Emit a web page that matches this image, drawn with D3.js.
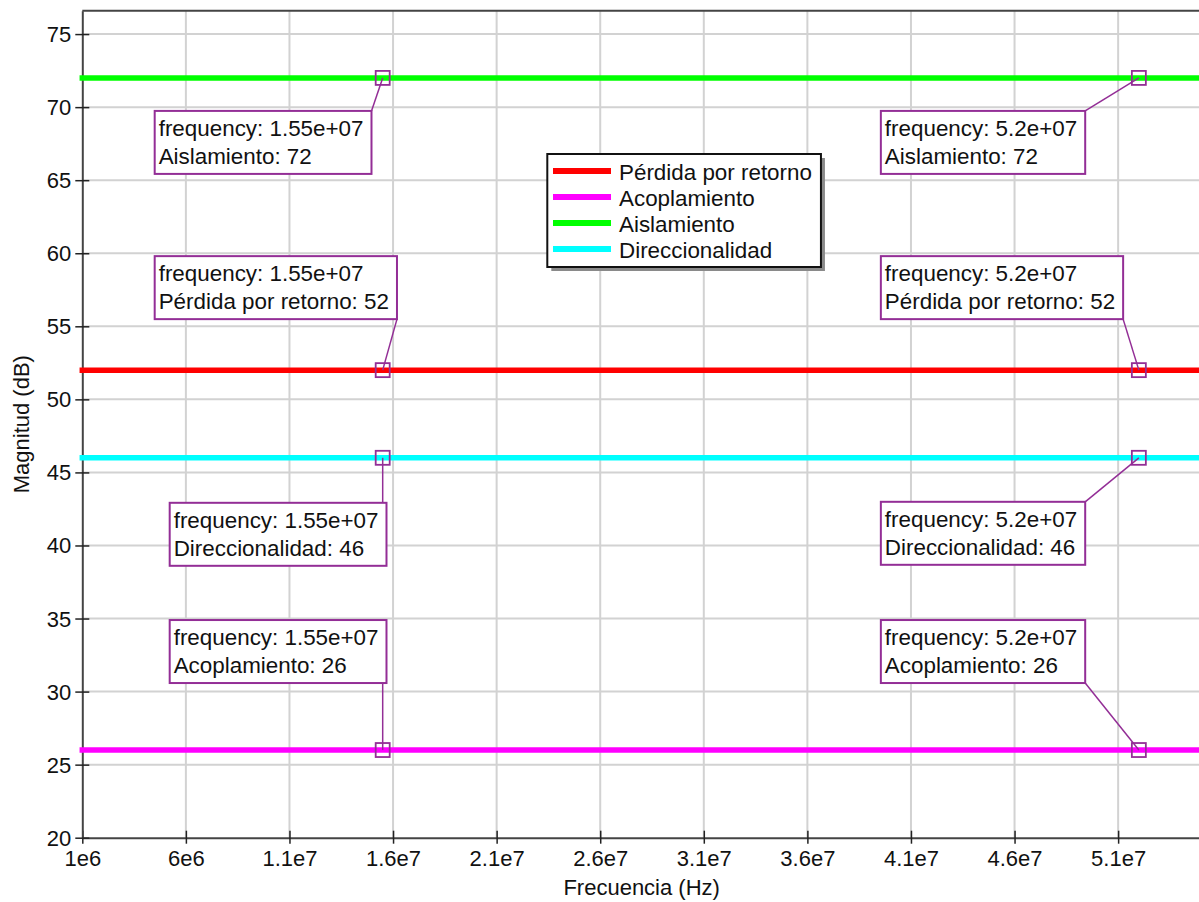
<!DOCTYPE html>
<html>
<head>
<meta charset="utf-8">
<script src="https://cdn.jsdelivr.net/npm/d3@7"></script>
<style>
  html, body { margin: 0; padding: 0; background: #fff; }
  svg { display: block; font-family: "Liberation Sans", Arial, sans-serif; }
</style>
</head>
<body>
<svg id="chart" width="1199" height="902"></svg>
<script>
// ---- data ----
const frequencyHz = [1e6, 1.55e7, 5.2e7, 5.5e7];
const seriesNames = ["Pérdida por retorno", "Acoplamiento", "Aislamiento", "Direccionalidad"];
const perdidaRetorno = [52, 52, 52, 52];
const acoplamiento = [26, 26, 26, 26];
const aislamiento = [72, 72, 72, 72];
const direccionalidad = [46, 46, 46, 46];
const markerFrequencies = [1.55e7, 5.2e7];
const xTickValues = [1e6, 6e6, 1.1e7, 1.6e7, 2.1e7, 2.6e7, 3.1e7, 3.6e7, 4.1e7, 4.6e7, 5.1e7];
const xTickLabels = ["1e6", "6e6", "1.1e7", "1.6e7", "2.1e7", "2.6e7", "3.1e7", "3.6e7", "4.1e7", "4.6e7", "5.1e7"];
const yTickValues = [20, 25, 30, 35, 40, 45, 50, 55, 60, 65, 70, 75];

// ---- styling ----
const seriesColors = ["#ff0000", "#ff00ff", "#00ff00", "#00ffff"];
const tipColor = "#932e96";
const seriesValues = [perdidaRetorno, acoplamiento, aislamiento, direccionalidad];

// datatip box placement, relative to the marker (box top-left corner)
const tipPlacement = {
  "Aislamiento":        [{dx: -228, dy: 33,   attach: "tr"}, {dx: -258, dy: 33,   attach: "tr"}],
  "Pérdida por retorno":[{dx: -228, dy: -114, attach: "br"}, {dx: -258, dy: -114, attach: "br"}],
  "Direccionalidad":    [{dx: -213, dy: 45,   attach: "t"},  {dx: -258, dy: 44,   attach: "tr"}],
  "Acoplamiento":       [{dx: -213, dy: -130, attach: "b"},  {dx: -258, dy: -130, attach: "br"}]
};

const svg = d3.select("#chart");
const plot = {left: 82.3, right: 1201, top: 10.7, bottom: 837.7};

const x = d3.scaleLinear().domain([1e6, 5.5e7]).range([plot.left, plot.right]);
const y = d3.scaleLinear().domain([20, 76.6]).range([plot.bottom, plot.top]);

// grid
const grid = svg.append("g").attr("stroke", "#d2d2d2").attr("stroke-width", 2);
grid.selectAll(".gx").data(xTickValues.slice(1)).join("line")
  .attr("x1", d => x(d)).attr("x2", d => x(d))
  .attr("y1", plot.top).attr("y2", plot.bottom);
grid.selectAll(".gy").data(yTickValues.slice(1)).join("line")
  .attr("x1", plot.left).attr("x2", plot.right)
  .attr("y1", d => y(d)).attr("y2", d => y(d));

// frame top edge
svg.append("line")
  .attr("x1", plot.left).attr("x2", plot.right)
  .attr("y1", plot.top).attr("y2", plot.top)
  .attr("stroke", "#444").attr("stroke-width", 2);

// axes
const xAxis = svg.append("g")
  .attr("transform", `translate(0,${plot.bottom})`)
  .call(d3.axisBottom(x).tickValues(xTickValues)
    .tickFormat((d, i) => xTickLabels[i]).tickSize(6).tickSizeOuter(0));
xAxis.select(".domain").attr("stroke", "#444").attr("stroke-width", 2);
xAxis.selectAll(".tick line").attr("y1", -7).attr("y2", 6).attr("stroke", "#222").attr("stroke-width", 1.5);
xAxis.selectAll(".tick text").attr("y", 28).attr("dy", null)
  .attr("font-size", 22).attr("fill", "#111").attr("font-family", "Liberation Sans, Arial, sans-serif");

const yAxis = svg.append("g")
  .attr("transform", `translate(${plot.left},0)`)
  .call(d3.axisLeft(y).tickValues(yTickValues).tickSize(7).tickSizeOuter(0));
yAxis.select(".domain").attr("stroke", "#444").attr("stroke-width", 2);
yAxis.selectAll(".tick line").attr("x1", 7).attr("x2", -7).attr("stroke", "#222").attr("stroke-width", 1.5);
yAxis.selectAll(".tick text").attr("x", -11).attr("dy", "0.34em")
  .attr("font-size", 22).attr("fill", "#111").attr("font-family", "Liberation Sans, Arial, sans-serif");

// axis titles
svg.append("text")
  .attr("x", (plot.left + plot.right) / 2).attr("y", 895)
  .attr("text-anchor", "middle").attr("font-size", 22).attr("fill", "#111")
  .text("Frecuencia (Hz)");
svg.append("text")
  .attr("transform", `translate(29,${(plot.top + plot.bottom) / 2}) rotate(-90)`)
  .attr("text-anchor", "middle").attr("font-size", 22).attr("fill", "#111")
  .text("Magnitud (dB)");

// series lines
const line = d3.line().x((d, i) => x(frequencyHz[i])).y(d => y(d));
svg.append("g").selectAll("path").data(seriesValues).join("path")
  .attr("d", d => line(d))
  .attr("fill", "none")
  .attr("stroke", (d, i) => seriesColors[i])
  .attr("stroke-width", 5.5)
  .attr("stroke-linecap", "square");

// datatips
const fmtFreq = v => {
  const [m, e] = v.toExponential().split("e");
  const sign = e[0] === "-" ? "-" : "+";
  const digits = e.replace(/[+-]/, "").padStart(2, "0");
  return `${m}e${sign}${digits}`;
};

const tipLayer = svg.append("g");
seriesNames.forEach((name, si) => {
  markerFrequencies.forEach((f, mi) => {
    const idx = frequencyHz.indexOf(f);
    const val = seriesValues[si][idx];
    const mx = x(f), my = y(val);
    const p = tipPlacement[name][mi];
    const g = tipLayer.append("g");
    const bx = mx + p.dx, by = my + p.dy;
    const rect = g.append("rect").attr("x", bx).attr("y", by)
      .attr("height", 63).attr("fill", "#fff")
      .attr("stroke", tipColor).attr("stroke-width", 2);
    const t1 = g.append("text").attr("x", bx + 4).attr("y", by + 25)
      .attr("font-size", 22.4).attr("fill", "#111").text(`frequency: ${fmtFreq(f)}`);
    const t2 = g.append("text").attr("x", bx + 4).attr("y", by + 53)
      .attr("font-size", 22.4).attr("fill", "#111").text(`${name}: ${val}`);
    const w = Math.max(t1.node().getComputedTextLength(), t2.node().getComputedTextLength()) + 12;
    rect.attr("width", w);
    let ax, ay;
    if (p.attach === "tr") { ax = bx + w; ay = by; }
    else if (p.attach === "br") { ax = bx + w; ay = by + 63; }
    else if (p.attach === "t") { ax = mx; ay = by; }
    else { ax = mx; ay = by + 63; }
    g.insert("line", "rect")
      .attr("x1", mx).attr("y1", my).attr("x2", ax).attr("y2", ay)
      .attr("stroke", tipColor).attr("stroke-width", 1.5);
    g.append("rect").attr("x", mx - 7).attr("y", my - 7)
      .attr("width", 14).attr("height", 14)
      .attr("fill", "none").attr("stroke", tipColor).attr("stroke-width", 1.8);
  });
});

// legend
const lg = svg.append("g");
const lgLeft = 547.3, lgTop = 154, lgH = 113;
const shadow = lg.append("rect").attr("x", lgLeft + 4).attr("y", lgTop + 4)
  .attr("height", lgH).attr("fill", "#8a8a8a");
const box = lg.append("rect").attr("x", lgLeft).attr("y", lgTop)
  .attr("height", lgH).attr("fill", "#fff").attr("stroke", "#111").attr("stroke-width", 2);
let maxW = 0;
seriesNames.forEach((name, i) => {
  const ly = 171 + i * 26;
  lg.append("line").attr("x1", 553).attr("x2", 611).attr("y1", ly).attr("y2", ly)
    .attr("stroke", seriesColors[i]).attr("stroke-width", 6);
  const t = lg.append("text").attr("x", 619).attr("y", ly + 9)
    .attr("font-size", 22.4).attr("fill", "#111").text(name);
  maxW = Math.max(maxW, t.node().getComputedTextLength());
});
const lgW = 619 + maxW + 9 - lgLeft;
box.attr("width", lgW);
shadow.attr("width", lgW);
</script>
</body>
</html>
